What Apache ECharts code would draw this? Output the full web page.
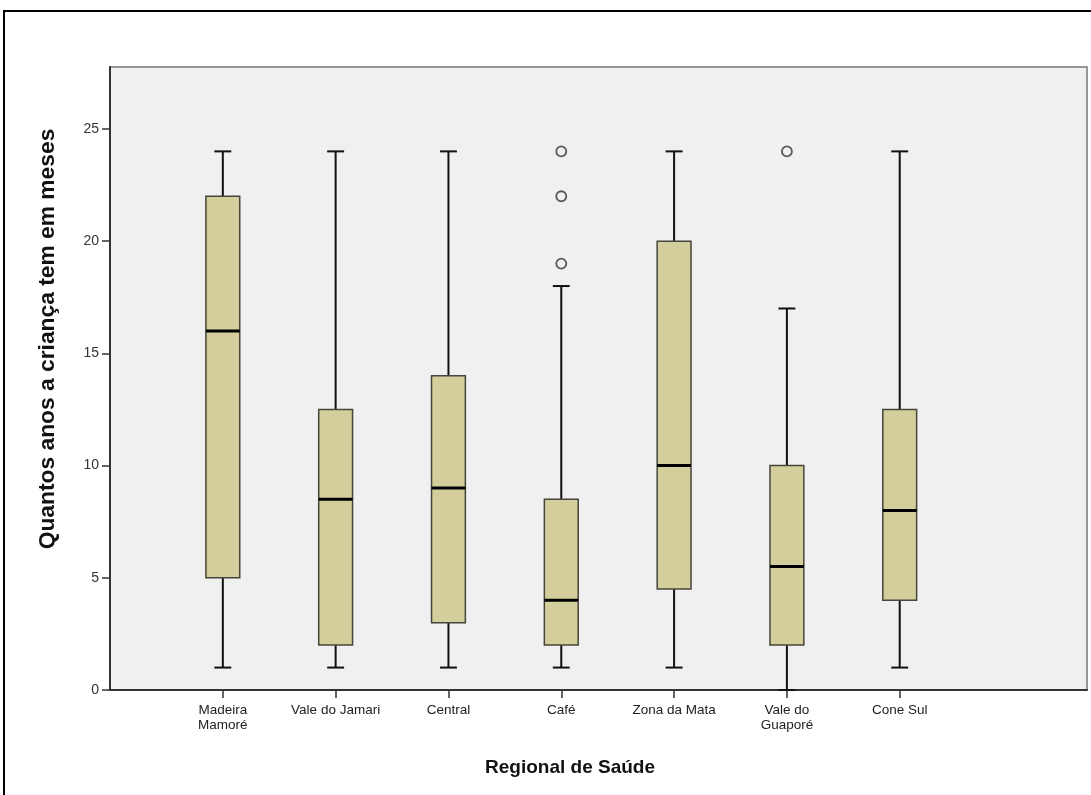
<!DOCTYPE html>
<html>
<head>
<meta charset="utf-8">
<script src="https://cdn.jsdelivr.net/npm/echarts@6/dist/echarts.min.js"></script>
<style>html,body{margin:0;padding:0;background:#fff;}#c{width:1091px;height:795px;}</style>
</head>
<body>
<div id="c"></div>
<script>
// Data
const categories = ['Madeira\nMamoré', 'Vale do Jamari', 'Central', 'Café', 'Zona da Mata', 'Vale do\nGuaporé', 'Cone Sul'];
const whiskerLow  = [1, 1, 1, 1, 1, 0, 1];
const q1Values    = [5, 2, 3, 2, 4.5, 2, 4];
const medians     = [16, 8.5, 9, 4, 10, 5.5, 8];
const q3Values    = [22, 12.5, 14, 8.5, 20, 10, 12.5];
const whiskerHigh = [24, 24, 24, 18, 24, 17, 24];
const outlierCategory = [4, 4, 4, 6];   // 1-based category position
const outlierValues   = [19, 22, 24, 24];
const yTicks = [0, 5, 10, 15, 20, 25];
const xTitle = 'Regional de Saúde';
const yTitle = 'Quantos anos a criança tem em meses';

const boxData = categories.map((c, i) => [i + 1, whiskerLow[i], q1Values[i], medians[i], q3Values[i], whiskerHigh[i]]);
const outlierData = outlierValues.map((v, i) => [outlierCategory[i], v]);

const chart = echarts.init(document.getElementById('c'), null, {renderer: 'canvas'});
const FONT = 'Liberation Sans, Arial, sans-serif';

chart.setOption({
  animation: false,
  backgroundColor: '#ffffff',
  grid: {left: 110, right: 4, top: 67, bottom: 105, show: true, backgroundColor: '#f0f0f0', borderColor: '#777', borderWidth: 1.5},
  xAxis: {
    type: 'value', min: 0, max: 8.66,
    axisLine: {show: true, onZero: false, lineStyle: {color: '#333', width: 2}},
    axisTick: {show: true, customValues: categories.map((c, i) => i + 1), length: 8, lineStyle: {color: '#333', width: 1.5}},
    axisLabel: {customValues: categories.map((c, i) => i + 1), formatter: v => categories[Math.round(v) - 1] || '',
      color: '#222', fontFamily: FONT, fontSize: 13.5, lineHeight: 15, margin: 13},
    splitLine: {show: false}
  },
  yAxis: {
    type: 'value', min: 0, max: 27.76,
    axisLine: {show: true, lineStyle: {color: '#333', width: 2}},
    axisTick: {show: true, customValues: yTicks, length: 8, lineStyle: {color: '#333', width: 1.5}},
    axisLabel: {customValues: yTicks, color: '#333', fontFamily: FONT, fontSize: 14, margin: 11},
    splitLine: {show: false}
  },
  graphic: [
    {type: 'rect', z: -10, silent: true, shape: {x: 4, y: 11, width: 1200, height: 900}, style: {fill: 'none', stroke: '#000', lineWidth: 2}},
    {type: 'text', silent: true, x: 570, y: 768, style: {text: xTitle, font: 'bold 19px ' + FONT, fill: '#111', textAlign: 'center', textVerticalAlign: 'middle'}},
    {type: 'text', silent: true, x: 48, y: 339, rotation: Math.PI / 2, style: {text: yTitle, font: 'bold 22.8px ' + FONT, fill: '#111', textAlign: 'center', textVerticalAlign: 'middle'}}
  ],
  series: [
    {
      type: 'custom',
      data: boxData,
      encode: {x: 0, y: [1, 2, 3, 4, 5]},
      z: 3,
      renderItem: function (params, api) {
        const x = api.value(0);
        const lo = api.coord([x, api.value(1)]);
        const q1 = api.coord([x, api.value(2)]);
        const md = api.coord([x, api.value(3)]);
        const q3 = api.coord([x, api.value(4)]);
        const hi = api.coord([x, api.value(5)]);
        const bw = api.size([0.3, 0])[0];
        const cw = api.size([0.15, 0])[0];
        const cx = lo[0];
        const lineStyle = {stroke: '#111', lineWidth: 2};
        return {
          type: 'group',
          children: [
            {type: 'line', shape: {x1: cx, y1: hi[1], x2: cx, y2: q3[1]}, style: lineStyle},
            {type: 'line', shape: {x1: cx, y1: q1[1], x2: cx, y2: lo[1]}, style: lineStyle},
            {type: 'line', shape: {x1: cx - cw / 2, y1: hi[1], x2: cx + cw / 2, y2: hi[1]}, style: lineStyle},
            {type: 'line', shape: {x1: cx - cw / 2, y1: lo[1], x2: cx + cw / 2, y2: lo[1]}, style: lineStyle},
            {type: 'rect', shape: {x: cx - bw / 2, y: q3[1], width: bw, height: q1[1] - q3[1]}, style: {fill: '#d3ce9b', stroke: '#45453a', lineWidth: 1.5}},
            {type: 'line', shape: {x1: cx - bw / 2, y1: md[1], x2: cx + bw / 2, y2: md[1]}, style: {stroke: '#000', lineWidth: 3}}
          ]
        };
      }
    },
    {
      type: 'scatter',
      data: outlierData,
      symbol: 'circle',
      symbolSize: 10,
      z: 4,
      itemStyle: {color: '#f0f0f0', borderColor: '#333', borderWidth: 1.8}
    }
  ]
});
</script>
</body>
</html>
